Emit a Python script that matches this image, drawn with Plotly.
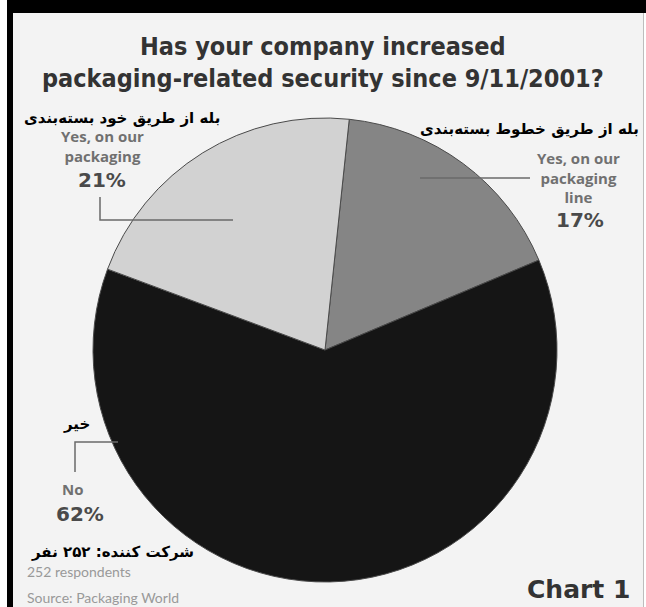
import plotly.graph_objects as go

# Survey answers (share of respondents, %)
answers = ["Yes, on our packaging line", "No", "Yes, on our packaging"]
shares = [17, 62, 21]
slice_colors = ["#858585", "#151515", "#d2d2d2"]

# Text blocks
title_lines = ["Has your company increased",
               "packaging-related security since 9/11/2001?"]
fa_line = "بله از طریق خطوط بسته‌بندی"
fa_pack = "بله از طریق خود بسته‌بندی"
fa_no = "خیر"
fa_resp = "شرکت کننده: ۲۵۲ نفر"
en_line = "Yes, on our<br>packaging<br>line"
en_pack = "Yes, on our<br>packaging"
en_no = "No"
footer_lines = ["252 respondents", "Source: Packaging World"]
chart_tag = "Chart 1"

W, H = 646, 607


def px(x):
    return x / W


def py(y):
    return 1 - y / H


cx, cy, r = 325, 350, 232

fig = go.Figure(go.Pie(
    labels=answers,
    values=shares,
    sort=False,
    direction="clockwise",
    rotation=6,
    marker=dict(colors=slice_colors, line=dict(color="#4a4a4a", width=1)),
    textinfo="none",
    hoverinfo="label+percent",
    showlegend=False,
    domain=dict(x=[px(cx - r), px(cx + r)], y=[py(cy + r), py(cy - r)]),
))

shapes = [
    # light panel background
    dict(type="rect", xref="paper", yref="paper", x0=px(13), x1=px(643),
         y0=0, y1=py(13), fillcolor="#f3f3f3", line=dict(width=0), layer="below"),
    # black header strip and left border
    dict(type="rect", xref="paper", yref="paper", x0=px(7), x1=1,
         y0=py(13), y1=1, fillcolor="#000000", line=dict(width=0)),
    dict(type="rect", xref="paper", yref="paper", x0=px(7), x1=px(13),
         y0=0, y1=1, fillcolor="#000000", line=dict(width=0)),
    dict(type="line", xref="paper", yref="paper", x0=px(643.5), x1=px(643.5),
         y0=0, y1=py(13), line=dict(color="#bdbdbd", width=1)),
]

lead = dict(color="#6a6a6a", width=1.5)
shapes += [
    dict(type="path", xref="paper", yref="paper",
         path=f"M {px(100)},{py(197)} L {px(100)},{py(220)} L {px(233)},{py(220)}",
         line=lead),
    dict(type="line", xref="paper", yref="paper", x0=px(420), x1=px(530),
         y0=py(178), y1=py(178), line=lead),
    dict(type="path", xref="paper", yref="paper",
         path=f"M {px(75)},{py(472)} L {px(75)},{py(442)} L {px(118)},{py(442)}",
         line=lead),
]

title_font = dict(family="DejaVu Sans Condensed, DejaVu Sans, sans-serif",
                  size=25, color="#333333")
fa_font = dict(family="DejaVu Sans, sans-serif", size=15, color="#000000")
en_font = dict(family="Open Sans, sans-serif", size=15, color="#707070")
pct_font = dict(family="DejaVu Sans, sans-serif", size=20, color="#4a4a4a")


def note(text, x, y, font, xanchor="center"):
    return dict(text=text, x=px(x), y=py(y), xref="paper", yref="paper",
                showarrow=False, font=font, xanchor=xanchor, yanchor="middle")


annotations = [
    note(f"<b>{title_lines[0]}</b>", 323, 46, title_font),
    note(f"<b>{title_lines[1]}</b>", 323, 78, title_font),
    note(f"<b>{fa_pack}</b>", 122, 118, fa_font),
    note(f"<b>{fa_line}</b>", 529, 129, fa_font),
    note(f"<b>{fa_no}</b>", 76, 424, fa_font),
    note(f"<b>{fa_resp}</b>", 112, 552, fa_font),
    note(f"<b>{en_pack}</b>", 102, 146, en_font),
    note(f"<b>{shares[2]}%</b>", 102, 180, pct_font),
    note(f"<b>{en_line}</b>", 578, 177, en_font),
    note(f"<b>{shares[0]}%</b>", 580, 220, pct_font),
    note(f"<b>{en_no}</b>", 72, 489, en_font),
    note(f"<b>{shares[1]}%</b>", 80, 514, pct_font),
    note(footer_lines[0], 25, 571, dict(family="Lato, sans-serif", size=14, color="#999999"), "left"),
    note(footer_lines[1], 25, 597, dict(family="Lato, sans-serif", size=14, color="#999999"), "left"),
    note(f"<b>{chart_tag}</b>", 632, 589, dict(family="DejaVu Sans, sans-serif", size=25, color="#333333"), "right"),
]

fig.update_layout(
    width=W, height=H,
    margin=dict(l=0, r=0, t=0, b=0),
    paper_bgcolor="#ffffff",
    plot_bgcolor="#ffffff",
    shapes=shapes,
    annotations=annotations,
)

fig.write_html("out.html")
